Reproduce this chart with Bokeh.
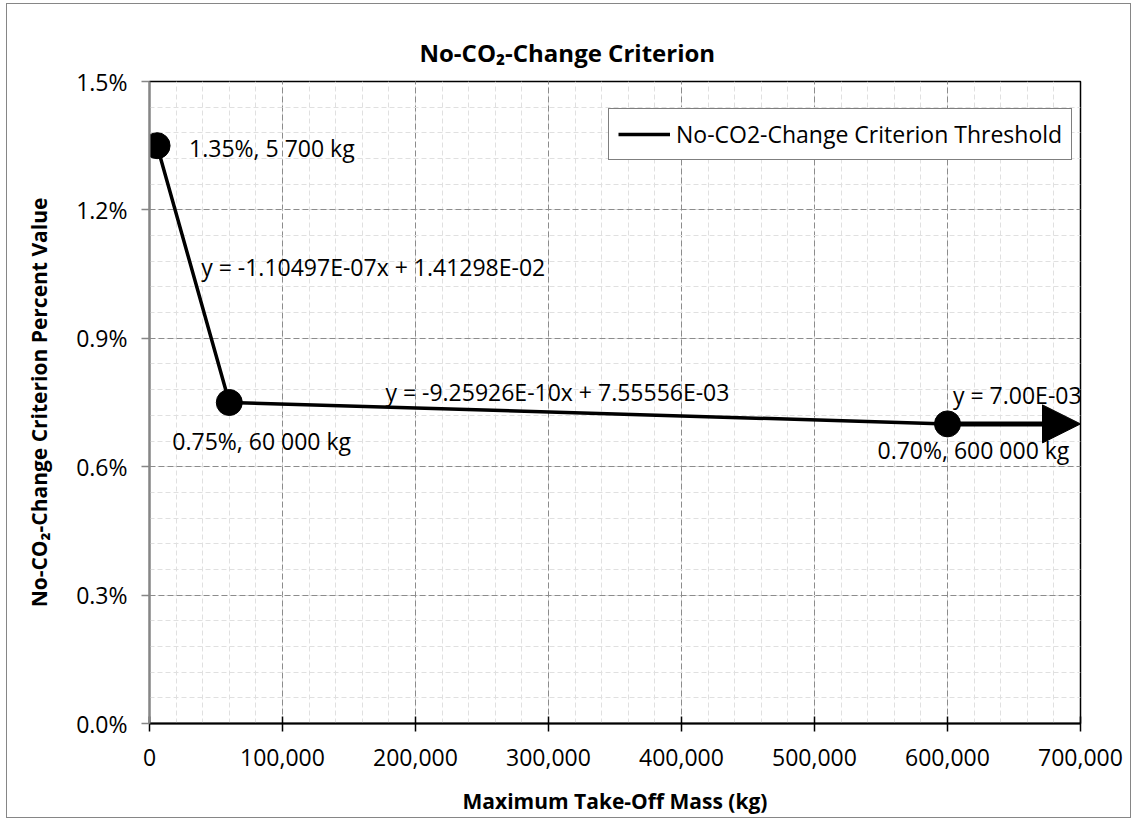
from bokeh.plotting import figure
from bokeh.models import (ColumnDataSource, FixedTicker, NumeralTickFormatter, Title,
                          Arrow, NormalHead, Range1d)
from bokeh.core.properties import value
from bokeh.embed import file_html
from bokeh.resources import INLINE

# ---- data ----
mass_kg = [5700, 60000, 600000]
criterion = [0.0135, 0.0075, 0.0070]
arrow_end_kg = 700000
point_labels = ["1.35%, 5 700 kg", "0.75%, 60 000 kg", "0.70%, 600 000 kg"]
equation_labels = ["y = -1.10497E-07x + 1.41298E-02",
                   "y = -9.25926E-10x + 7.55556E-03",
                   "y = 7.00E-03"]
x_ticks = [0, 100000, 200000, 300000, 400000, 500000, 600000, 700000]
y_ticks = [0.0, 0.003, 0.006, 0.009, 0.012, 0.015]

FONT = "Open Sans"

p = figure(frame_width=931, frame_height=642,
           min_border_left=142, min_border_top=77, min_border_right=50, min_border_bottom=92,
           x_range=Range1d(0, 700000), y_range=Range1d(0, 0.015),
           output_backend="svg", toolbar_location=None, title=None)
p.styles = {"border": "1.5px solid #868686", "margin-left": "6px", "margin-top": "3px"}
p.background_fill_color = "white"
p.border_fill_color = "white"
p.outline_line_color = "black"
p.outline_line_width = 1.5

# tickers with minor ticks
xminor = [i * 20000 for i in range(36)]
yminor = [i * 0.0006 for i in range(26)]
p.xaxis.ticker = FixedTicker(ticks=x_ticks, minor_ticks=xminor)
p.yaxis.ticker = FixedTicker(ticks=y_ticks, minor_ticks=yminor)
p.xaxis.formatter = NumeralTickFormatter(format="0,0")
p.yaxis.formatter = NumeralTickFormatter(format="0.0%")

# grids
for g in (p.xgrid, p.ygrid):
    g.grid_line_color = "#8c8c8c"
    g.grid_line_dash = "6 3"
    g.grid_line_width = 1
    g.minor_grid_line_color = "#e0e0e0"
    g.minor_grid_line_dash = "5 3"
    g.minor_grid_line_width = 1

# axes
for ax in (p.xaxis, p.yaxis):
    ax.major_label_text_font = FONT
    ax.major_label_text_font_size = "23px"
    ax.major_label_text_color = "black"
    ax.axis_label_text_font = FONT
    ax.axis_label_text_font_size = "21px"
    ax.axis_label_text_font_style = "bold"
    ax.axis_label_text_color = "black"
    ax.minor_tick_line_color = None

p.xaxis.axis_line_color = "black"
p.xaxis.axis_line_width = 2
p.xaxis.major_tick_line_color = "black"
p.xaxis.major_tick_line_width = 1.5
p.xaxis.major_tick_in = 7
p.xaxis.major_tick_out = 8
p.xaxis.major_label_standoff = 17
p.xaxis.axis_label = "Maximum Take-Off Mass (kg)"
p.xaxis.axis_label_standoff = 18

p.yaxis.axis_line_color = "#868686"
p.yaxis.axis_line_width = 2
p.yaxis.major_tick_line_color = "#868686"
p.yaxis.major_tick_line_width = 1.5
p.yaxis.major_tick_in = 0
p.yaxis.major_tick_out = 8
p.yaxis.major_label_standoff = 14
p.yaxis.axis_label = "No-CO\u2082-Change Criterion Percent Value"
p.yaxis.axis_label_standoff = 20

# main series
src = ColumnDataSource(dict(x=mass_kg, y=criterion))
p.line("x", "y", source=src, line_color="black", line_width=3.5,
       legend_label="No-CO2-Change Criterion Threshold")

# horizontal arrow from last point to the end of the axis
p.add_layout(Arrow(x_start=mass_kg[-1], y_start=criterion[-1],
                   x_end=arrow_end_kg, y_end=criterion[-1],
                   line_color="black", line_width=5,
                   end=NormalHead(size=38, fill_color="black", line_color="black")))

p.scatter("x", "y", source=src, size=26, fill_color="black", line_color="black")

# point labels
lab_src = ColumnDataSource(dict(x=mass_kg, y=criterion, text=point_labels,
                                xo=[32, -57, -70], yo=[2, 38, 26]))
p.text("x", "y", text="text", source=lab_src, x_offset="xo", y_offset="yo",
       text_font=value(FONT), text_font_size="23px", text_color="black",
       text_baseline="middle", text_align="left")

# equation labels at segment midpoints
seg_x = [(mass_kg[0] + mass_kg[1]) / 2, (mass_kg[1] + mass_kg[2]) / 2,
         (mass_kg[2] + arrow_end_kg) / 2]
seg_y = [(criterion[0] + criterion[1]) / 2, (criterion[1] + criterion[2]) / 2, criterion[2]]
eq_src = ColumnDataSource(dict(x=seg_x, y=seg_y, text=equation_labels,
                               xo=[8, -203, -61], yo=[-7, -21, -29]))
p.text("x", "y", text="text", source=eq_src, x_offset="xo", y_offset="yo",
       text_font=value(FONT), text_font_size="23px", text_color="black",
       text_baseline="middle", text_align="left")

# title
p.add_layout(Title(text="No-CO\u2082-Change Criterion", align="left", offset=270,
                   text_font=FONT, text_font_size="24px", text_font_style="bold",
                   text_color="black", standoff=26), "above")

# legend
leg = p.legend[0]
leg.location = (459, 563)
leg.label_text_font = FONT
leg.label_text_font_size = "23px"
leg.label_text_color = "black"
leg.glyph_width = 52
leg.glyph_height = 20
leg.label_standoff = 6
leg.padding = 9
leg.margin = 0
leg.spacing = 0
leg.border_line_color = "black"
leg.border_line_width = 1.5
leg.background_fill_alpha = 1

open("out.html", "w").write(file_html(p, INLINE))
